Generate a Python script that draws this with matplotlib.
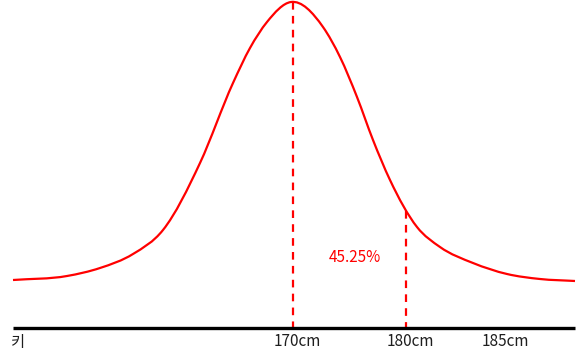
import numpy as np
import matplotlib.pyplot as plt
from matplotlib.path import Path
from matplotlib.patches import PathPatch

plt.rcParams['font.family'] = ['Noto Sans CJK KR', 'DejaVu Sans']
plt.rcParams['lines.scale_dashes'] = False

# curve (horizontal position, height from top)
curve_x = [13, 67, 100, 133, 163, 200, 233, 250, 267, 291,
           323, 340, 357, 373, 390, 417, 440, 473, 507, 540, 575]
curve_y = [280, 276, 268, 254, 230, 163, 83, 48, 22, 2,
           27, 57, 97, 140, 180, 227, 247, 263, 274, 279, 281]

# marker lines: position, top of line
mark_x = [293, 405.5]
mark_top = [2, 211]

tick_labels = ['170cm', '180cm', '185cm']
tick_x = [297, 410, 505]
axis_label = '키'
share_text = '45.25%'

RED = '#ff0000'

fig = plt.figure(figsize=(5.77, 3.62), dpi=100)
ax = fig.add_axes([0, 0, 1, 1])
ax.set_xlim(0, 577)
ax.set_ylim(362, 0)
ax.axis('off')

# smooth curve through the points, drawn as cubic Beziers
x = np.array(curve_x, float)
y = np.array(curve_y, float)
m = np.gradient(y, x)
verts = [(x[0], y[0])]
codes = [Path.MOVETO]
for i in range(len(x) - 1):
    h = x[i + 1] - x[i]
    verts += [(x[i] + h / 3, y[i] + m[i] * h / 3),
              (x[i + 1] - h / 3, y[i + 1] - m[i + 1] * h / 3),
              (x[i + 1], y[i + 1])]
    codes += [Path.CURVE4] * 3
ax.add_patch(PathPatch(Path(verts, codes), fill=False, edgecolor=RED, lw=1.6))

# dashed markers
for mx, top in zip(mark_x, mark_top):
    ax.plot([mx, mx], [top, 327], color=RED, lw=1.6, ls=(0, (5.5, 4.5)))

# base axis
ax.plot([13, 575], [328, 328], color='black', lw=2.4, solid_capstyle='butt')

for lab, tx in zip(tick_labels, tick_x):
    ax.text(tx, 342, lab, ha='center', va='center', fontsize=11, color='#1e1e1e')
ax.text(11, 342, axis_label, ha='left', va='center', fontsize=11, color='#1e1e1e')

ax.text(355, 258, share_text, ha='center', va='center', fontsize=11, color=RED)

fig.savefig('out.png', dpi=100)
